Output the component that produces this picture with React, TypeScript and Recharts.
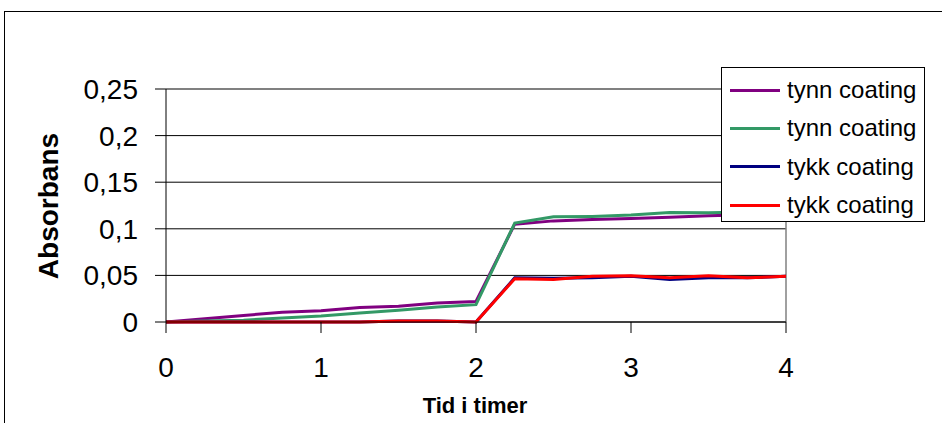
import React from "react"
import {
  CartesianGrid,
  Label,
  Legend,
  Line,
  LineChart,
  ReferenceLine,
  XAxis,
  YAxis,
} from "recharts"

// tid i timer, hvert kvarter
const timer = [0, 0.25, 0.5, 0.75, 1, 1.25, 1.5, 1.75, 2, 2.25, 2.5, 2.75, 3, 3.25, 3.5, 3.75, 4]
const tynn1 = [0, 0.0035, 0.007, 0.0105, 0.012, 0.0155, 0.017, 0.0205, 0.022, 0.105, 0.1085, 0.11, 0.111, 0.1125, 0.114, 0.115, 0.116]
const tynn2 = [0, 0.001, 0.002, 0.0043, 0.0064, 0.0096, 0.0125, 0.016, 0.0186, 0.1062, 0.1128, 0.1133, 0.1147, 0.1175, 0.1172, 0.118, 0.119]
const tykk1 = [0, 0, 0, 0, 0, 0, 0.001, 0.001, 0, 0.0474, 0.047, 0.0474, 0.049, 0.0456, 0.0474, 0.0474, 0.049]
const tykk2 = [0, 0, 0, 0, 0, 0, 0.001, 0.001, 0, 0.0464, 0.0456, 0.0492, 0.0496, 0.0474, 0.0496, 0.0474, 0.049]

const seriesOrder = ["tynn1", "tynn2", "tykk1", "tykk2"]
const xTicks = [0, 1, 2, 3, 4]
const yTicks = [0, 0.05, 0.1, 0.15, 0.2, 0.25]

const data = timer.map((t, i) => ({
  t,
  tynn1: tynn1[i],
  tynn2: tynn2[i],
  tykk1: tykk1[i],
  tykk2: tykk2[i],
}))

const FONT = "'Liberation Sans', Arial, sans-serif"

function renderLegend(props: any) {
  // legenden skal vise seriene i tegnerekkefølge, ikke alfabetisk
  const payload = [...(props.payload || [])].sort(
    (a: any, b: any) => seriesOrder.indexOf(a.dataKey) - seriesOrder.indexOf(b.dataKey)
  )
  return (
    <div
      style={{
        border: "1px solid #000",
        background: "#fff",
        width: 204,
        height: 155,
        boxSizing: "border-box",
        paddingTop: 3,
        fontFamily: FONT,
        fontSize: 24,
        color: "#000",
      }}
    >
      {payload.map((entry: any, i: number) => (
        <div key={i} style={{ display: "flex", alignItems: "center", height: 38.3 }}>
          <span
            style={{
              display: "inline-block",
              width: 50,
              height: 3,
              background: entry.color,
              marginLeft: 8,
              marginRight: 7,
            }}
          />
          <span>{entry.value}</span>
        </div>
      ))}
    </div>
  )
}

export default function App() {
  return (
    <div
      style={{
        position: "absolute",
        left: 0,
        top: 0,
        width: 942,
        height: 423,
        overflow: "hidden",
        background: "#fff",
      }}
    >
      <div
        style={{
          position: "absolute",
          left: 4,
          top: 11,
          width: 1000,
          height: 500,
          border: "1px solid #000",
        }}
      />
      <LineChart
        width={942}
        height={423}
        data={data}
        margin={{ top: 89, right: 156, bottom: 0, left: 0 }}
      >
        <CartesianGrid vertical={false} stroke="#000" strokeWidth={1} />
        <ReferenceLine y={0.25} stroke="#808080" strokeWidth={1.5} />
        <ReferenceLine x={4} stroke="#808080" strokeWidth={1.5} />
        <XAxis
          type="number"
          dataKey="t"
          domain={[0, 4]}
          ticks={xTicks}
          height={101}
          tickSize={11}
          tickMargin={24}
          stroke="#000"
          tick={{ fill: "#000", fontSize: 28, fontFamily: FONT }}
        >
          <Label
            content={() => (
              <text
                x={475}
                y={413}
                textAnchor="middle"
                style={{ fontFamily: FONT, fontSize: 22, fontWeight: "bold", fill: "#000" }}
              >
                Tid i timer
              </text>
            )}
          />
        </XAxis>
        <YAxis
          type="number"
          domain={[0, 0.25]}
          ticks={yTicks}
          width={166}
          tickSize={11}
          tickMargin={17}
          stroke="#000"
          tickFormatter={(v: number) => String(v).replace(".", ",")}
          tick={{ fill: "#000", fontSize: 28, fontFamily: FONT }}
        >
          <Label
            content={() => (
              <text
                x={48}
                y={206}
                transform="rotate(-90, 48, 206)"
                textAnchor="middle"
                dominantBaseline="central"
                style={{ fontFamily: FONT, fontSize: 28, fontWeight: "bold", fill: "#000" }}
              >
                Absorbans
              </text>
            )}
          />
        </YAxis>
        <Legend
          layout="vertical"
          align="center"
          verticalAlign="middle"
          content={renderLegend}
          wrapperStyle={{ left: 721, top: 67, width: 204, height: 155 }}
        />
        <Line type="linear" dataKey="tynn1" name="tynn coating" stroke="#800080" strokeWidth={3} dot={false} isAnimationActive={false} />
        <Line type="linear" dataKey="tynn2" name="tynn coating" stroke="#339966" strokeWidth={3} dot={false} isAnimationActive={false} />
        <Line type="linear" dataKey="tykk1" name="tykk coating" stroke="#000080" strokeWidth={3} dot={false} isAnimationActive={false} />
        <Line type="linear" dataKey="tykk2" name="tykk coating" stroke="#ff0000" strokeWidth={3} dot={false} isAnimationActive={false} />
      </LineChart>
    </div>
  )
}
